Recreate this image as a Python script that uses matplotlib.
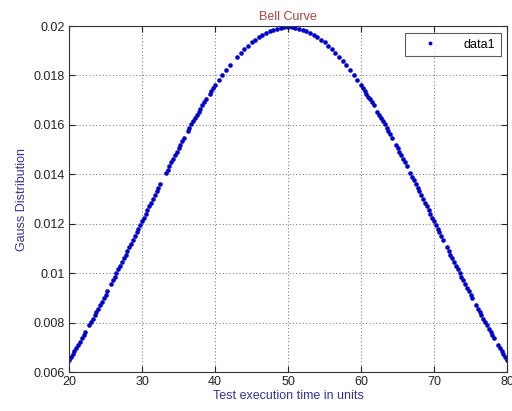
import matplotlib
matplotlib.use("Agg")
import matplotlib.pyplot as plt

plt.rcParams['font.family'] = ['Liberation Sans', 'DejaVu Sans']

# Rising flank (test execution time in units, Gauss distribution)
rise_x = [20, 20.25, 20.5, 20.75, 21, 21.25, 21.5, 21.75, 22, 22.25, 22.75, 23, 23.25, 23.5,
          23.75, 24, 24.25, 24.5, 24.75, 25, 25.25, 25.75, 26, 26.25, 26.5, 26.75, 27,
          27.25, 27.5, 27.75, 28, 28.25, 28.5, 28.75, 29, 29.25, 29.5, 29.75, 30, 30.25,
          30.5, 30.75, 31, 31.25, 31.5, 31.75, 32, 32.25, 32.5, 33.25, 33.5, 33.75, 34,
          34.25, 34.5, 34.75, 35, 35.25, 35.5, 35.75, 36.25, 36.5, 36.75, 37, 37.25, 37.5,
          37.75, 38, 38.25, 38.5, 38.75, 39.25, 39.5, 39.75, 40]
rise_y = [0.006476, 0.006598, 0.006721, 0.006846, 0.006971, 0.007098, 0.007226, 0.007356,
          0.007486, 0.007618, 0.007884, 0.008019, 0.008155, 0.008292,
          0.008430, 0.008569, 0.008708, 0.008849, 0.008990, 0.009132, 0.009276, 0.009564,
          0.009709, 0.009855, 0.010002, 0.010149, 0.010297,
          0.010445, 0.010594, 0.010743, 0.010893, 0.011042, 0.011193, 0.011343, 0.011494,
          0.011645, 0.011796, 0.011947, 0.012099, 0.012250,
          0.012401, 0.012552, 0.012703, 0.012854, 0.013004, 0.013154, 0.013304, 0.013454,
          0.013603, 0.014047, 0.014193, 0.014339, 0.014485,
          0.014629, 0.014773, 0.014915, 0.015057, 0.015198, 0.015337, 0.015476, 0.015749,
          0.015883, 0.016017, 0.016149, 0.016279, 0.016408,
          0.016535, 0.016661, 0.016785, 0.016908, 0.017028, 0.017264, 0.017379, 0.017492,
          0.017603]

# Peak region
peak_x = [40.5, 41, 41.5, 42, 43, 43.5, 44, 44.5, 45, 45.5, 46, 46.5, 47, 47.5, 48, 48.5,
          49, 49.5, 50, 50.5, 51, 51.5, 52, 52.5, 53, 53.5, 54, 54.5, 55, 55.5, 56, 56.5,
          57, 57.5, 58, 58.5, 59, 59.5]
peak_y = [0.017819, 0.018026, 0.018225, 0.018413, 0.018762, 0.018921, 0.019069, 0.019207,
          0.019333, 0.019449, 0.019552, 0.019644, 0.019724, 0.019792, 0.019848, 0.019891,
          0.019922, 0.019941, 0.019947, 0.019941, 0.019922, 0.019891, 0.019848, 0.019792,
          0.019724, 0.019644, 0.019552, 0.019449, 0.019333, 0.019207, 0.019069, 0.018921,
          0.018762, 0.018593, 0.018413, 0.018225, 0.018026, 0.017819]

# Falling flank
fall_x = [60, 60.25, 60.5, 60.75, 61, 61.25, 61.5, 61.75, 62.25, 62.5, 62.75, 63, 63.25,
          63.5, 63.75, 64, 64.25, 64.75, 65, 65.25, 65.5, 65.75, 66, 66.25, 66.75, 67,
          67.25, 67.5, 67.75, 68, 68.25, 68.5, 68.75, 69, 69.25, 69.5, 69.75, 70, 70.25,
          70.5, 70.75, 71, 71.25, 71.75, 72, 72.25, 72.5, 72.75, 73, 73.25, 73.5, 73.75,
          74, 74.25, 74.5, 74.75, 75, 75.25, 75.75, 76, 76.25, 76.5, 76.75, 77, 77.25,
          77.5, 77.75, 78, 78.25, 78.75, 79, 79.25, 79.5, 79.75, 80]
fall_y = [0.017603, 0.017492, 0.017379, 0.017264, 0.017147, 0.017028, 0.016908, 0.016785,
          0.016535, 0.016408, 0.016279, 0.016149, 0.016017,
          0.015883, 0.015749, 0.015613, 0.015476, 0.015198, 0.015057, 0.014915, 0.014773,
          0.014629, 0.014485, 0.014339, 0.014047, 0.013899,
          0.013751, 0.013603, 0.013454, 0.013304, 0.013154, 0.013004, 0.012854, 0.012703,
          0.012552, 0.012401, 0.012250, 0.012099, 0.011947,
          0.011796, 0.011645, 0.011494, 0.011343, 0.011042, 0.010893, 0.010743, 0.010594,
          0.010445, 0.010297, 0.010149, 0.010002, 0.009855,
          0.009709, 0.009564, 0.009419, 0.009276, 0.009132, 0.008990, 0.008708, 0.008569,
          0.008430, 0.008292, 0.008155, 0.008019, 0.007884,
          0.007751, 0.007618, 0.007486, 0.007356, 0.007098, 0.006971, 0.006846, 0.006721,
          0.006598, 0.006476]

x_ticks = [20, 30, 40, 50, 60, 70, 80]
y_ticks = [0.006, 0.008, 0.01, 0.012, 0.014, 0.016, 0.018, 0.02]
y_tick_labels = ['0.006', '0.008', '0.01', '0.012', '0.014', '0.016', '0.018', '0.02']

time_units = rise_x + peak_x + fall_x
gauss = rise_y + peak_y + fall_y

fig = plt.figure(figsize=(5.12, 4.11), dpi=100)
ax = fig.add_axes([69/512, 39/411, 438/512, 346/411])

ax.plot(time_units, gauss, linestyle='none', marker='o', markersize=3.3,
        color='#0000cc', markeredgewidth=0, label='data1')

ax.set_xlim(20, 80)
ax.set_ylim(0.006, 0.02)
ax.set_xticks(x_ticks)
ax.set_xticklabels([str(t) for t in x_ticks])
ax.set_yticks(y_ticks)
ax.set_yticklabels(y_tick_labels)
ax.tick_params(direction='in', length=4, labelsize=9, colors='#222222',
               top=True, right=True, labeltop=False, labelright=False)
ax.tick_params(axis='x', pad=3)
ax.tick_params(axis='y', pad=3)
ax.grid(True, linestyle=(0, (1, 2)), color='#808080', linewidth=0.8)
for s in ax.spines.values():
    s.set_color('#333333')
    s.set_linewidth(0.8)

ax.set_title('Bell Curve', color='#a84444', fontsize=9, pad=4)
ax.set_xlabel('Test execution time in units', color='#333399', fontsize=9, labelpad=1)
ax.set_ylabel('Gauss Distribution', color='#333399', fontsize=9, labelpad=4)

leg = ax.legend(loc='upper right', fontsize=9, frameon=True, fancybox=False,
                markerscale=0.85, handlelength=3.0, handletextpad=1.2, borderpad=0.45,
                borderaxespad=0, bbox_to_anchor=(0.986, 0.980))
leg.get_frame().set_edgecolor('#333333')
leg.get_frame().set_linewidth(0.8)

fig.savefig('out.png', dpi=100)
